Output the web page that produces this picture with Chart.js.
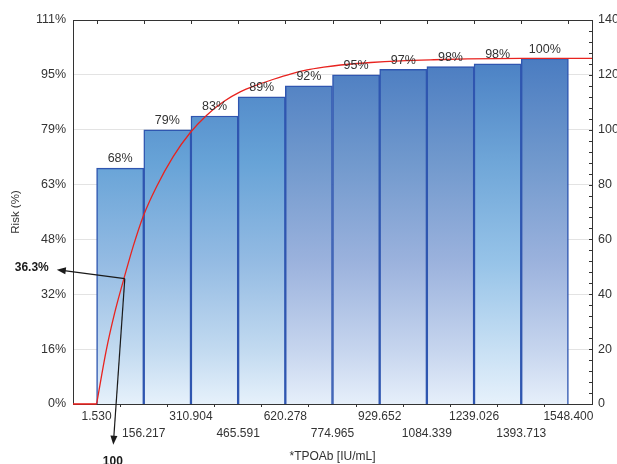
<!DOCTYPE html>
<html>
<head>
<meta charset="utf-8">
<script src="https://cdn.jsdelivr.net/npm/chart.js@4.4.1/dist/chart.umd.min.js"></script>
<style>
  html, body { margin: 0; padding: 0; background: #fff; }
  #wrap { width: 617px; height: 464px; }
</style>
</head>
<body>
<div id="wrap"><canvas id="chart" width="617" height="464"></canvas></div>
<script>
// bin edges of the TPOAb histogram (IU/mL)
const binEdges = [1.530, 156.217, 310.904, 465.591, 620.278, 774.965, 929.652, 1084.339, 1239.026, 1393.713, 1548.400];
const edgeLabels = ['1.530', '156.217', '310.904', '465.591', '620.278', '774.965', '929.652', '1084.339', '1239.026', '1393.713', '1548.400'];

// cumulative counts per bin (right axis) and their risk labels
const cumCounts = [86, 100, 105, 112, 116, 120, 122, 123, 124, 126];
const riskLabels = ['68%', '79%', '83%', '89%', '92%', '95%', '97%', '98%', '98%', '100%'];

// red fitted curve
const flatX = [-75.8, 1.53];
const flatY = [0, 0];
const curveX = [1.53, 33.5, 60.8, 91.4, 121, 153.9, 198, 252.6, 307.6, 362.6, 417.2, 472.2, 527.1, 581.8, 636.7, 691.7, 746.3, 801.3, 900, 998.8, 1107.4, 1218.4, 1393.7, 1625.7];
const curveY = [0, 19.7, 33.2, 45.8, 57.3, 68.3, 79.2, 90.2, 98.8, 105.3, 110.2, 113.8, 116.3, 118.4, 120.3, 121.8, 122.8, 123.6, 124.5, 125.1, 125.5, 125.8, 126, 126];

// axis ticks
const countTicks = [0, 20, 40, 60, 80, 100, 120, 140];
const riskTicks = ['0%', '16%', '32%', '48%', '63%', '79%', '95%', '111%'];

// marked point on the curve
const markPoint = [94, 45.7];
const markXLabel = '100';
const markYLabel = '36.3%';

const FONT = "'Liberation Sans', Arial, sans-serif";
const INK = '#333';

// gradient tones per bar: 0 cyan, 1 violet, 2 light cyan
const barTone = [0, 0, 0, 0, 1, 1, 1, 1, 2, 1];
const tones = [
  [[0, '#3f6fb8'], [0.10, '#4a80c4'], [0.37, '#67a3d7'], [0.63, '#94bbe3'], [0.86, '#c2daf0'], [1, '#e6f1fb']],
  [[0, '#3f6cb6'], [0.10, '#4a7cc1'], [0.37, '#7199cd'], [0.63, '#9bb2dd'], [0.86, '#c6d5ee'], [1, '#e6effa']],
  [[0, '#3f6fb8'], [0.10, '#4a80c4'], [0.37, '#6fa6d8'], [0.63, '#96c3e8'], [0.86, '#c8e0f4'], [1, '#e6f1fb']]
];

const barData = cumCounts.map((c, i) => ({ x: (binEdges[i] + binEdges[i + 1]) / 2, y: c }));
const curveData = curveX.map((x, i) => ({ x: x, y: curveY[i] }));
const flatData = flatX.map((x, i) => ({ x: x, y: flatY[i] }));

function barFill(ctx) {
  const chart = ctx.chart;
  const area = chart.chartArea;
  if (!area) return '#6a9fd6';
  const g = chart.ctx.createLinearGradient(0, area.top, 0, area.bottom);
  tones[barTone[ctx.dataIndex] || 0].forEach(s => g.addColorStop(s[0], s[1]));
  return g;
}

function arrow(c, x1, y1, x2, y2) {
  const a = Math.atan2(y2 - y1, x2 - x1);
  const len = 9, half = 3.5;
  c.beginPath();
  c.moveTo(x1, y1);
  c.lineTo(x2 - Math.cos(a) * len * 0.6, y2 - Math.sin(a) * len * 0.6);
  c.stroke();
  c.beginPath();
  c.moveTo(x2, y2);
  c.lineTo(x2 - Math.cos(a) * len - Math.sin(a) * half, y2 - Math.sin(a) * len + Math.cos(a) * half);
  c.lineTo(x2 - Math.cos(a) * len + Math.sin(a) * half, y2 - Math.sin(a) * len - Math.cos(a) * half);
  c.closePath();
  c.fill();
}

const decor = {
  id: 'decor',
  afterDatasetsDraw(chart) {
    const c = chart.ctx;
    const xs = chart.scales.x, ys = chart.scales.y2;
    c.save();
    c.font = '12.5px ' + FONT;
    c.fillStyle = INK;
    c.textAlign = 'center';
    c.textBaseline = 'bottom';
    barData.forEach((b, i) => {
      c.fillText(riskLabels[i], xs.getPixelForValue(b.x), ys.getPixelForValue(b.y) - 3);
    });
    c.restore();
  },
  afterDraw(chart) {
    const c = chart.ctx;
    const a = chart.chartArea;
    const xs = chart.scales.x, ys = chart.scales.y2;
    c.save();
    // top frame line with inward ticks
    c.strokeStyle = INK;
    c.lineWidth = 1;
    c.beginPath();
    c.moveTo(a.left, a.top + 0.5);
    c.lineTo(a.right, a.top + 0.5);
    binEdges.forEach(v => {
      const px = Math.round(xs.getPixelForValue(v)) + 0.5;
      c.moveTo(px, a.top);
      c.lineTo(px, a.top + 4);
    });
    // minor ticks on the right axis
    for (let v = 0; v <= 140; v += 4) {
      const py = Math.round(ys.getPixelForValue(v)) + 0.5;
      c.moveTo(a.right - 3, py);
      c.lineTo(a.right, py);
    }
    c.stroke();

    // marked point with arrows
    const px = xs.getPixelForValue(markPoint[0]);
    const py = ys.getPixelForValue(markPoint[1]);
    c.strokeStyle = '#1a1a1a';
    c.fillStyle = '#1a1a1a';
    c.lineWidth = 1.2;
    arrow(c, px, py, px - 68, py - 9);
    arrow(c, px, py, px - 11.5, py + 166);
    c.font = 'bold 12px ' + FONT;
    c.textBaseline = 'middle';
    c.textAlign = 'right';
    c.fillText(markYLabel, px - 76, py - 11);
    c.textAlign = 'center';
    c.fillText(markXLabel, px - 12, py + 183);
    c.restore();
  }
};

const redLine = {
  type: 'line',
  xAxisID: 'x',
  yAxisID: 'y2',
  borderColor: '#e8231f',
  borderWidth: 1.3,
  pointRadius: 0,
  fill: false,
  clip: 2,
  order: 0
};

new Chart(document.getElementById('chart'), {
  type: 'bar',
  data: {
    datasets: [
      Object.assign({}, redLine, { data: flatData, borderWidth: 1.6 }),
      Object.assign({}, redLine, { data: curveData, cubicInterpolationMode: 'monotone' }),
      {
        type: 'bar',
        data: barData,
        xAxisID: 'x',
        yAxisID: 'y2',
        backgroundColor: barFill,
        borderColor: '#2f56b0',
        borderWidth: 1.5,
        borderSkipped: 'start',
        barPercentage: 1,
        categoryPercentage: 1,
        order: 1
      }
    ]
  },
  options: {
    responsive: false,
    animation: false,
    layout: { padding: { top: 20, left: 0, right: 0, bottom: 0 } },
    plugins: {
      legend: { display: false },
      tooltip: { enabled: false }
    },
    scales: {
      x: {
        type: 'linear',
        position: 'bottom',
        min: -75.81,
        max: 1625.74,
        offset: false,
        afterBuildTicks: s => { s.ticks = binEdges.map(v => ({ value: v })); },
        afterFit: s => { s.height = 60; },
        ticks: {
          autoSkip: false,
          maxRotation: 0,
          padding: 1,
          color: INK,
          font: { family: FONT, size: 12, lineHeight: 1.45 },
          callback: (v, i) => (i % 2 === 0 ? [edgeLabels[i], ''] : ['', edgeLabels[i]])
        },
        grid: { drawOnChartArea: false, tickLength: 3, color: INK },
        border: { color: INK, width: 1 },
        title: {
          display: true,
          text: '*TPOAb [IU/mL]',
          color: INK,
          font: { family: FONT, size: 12 },
          padding: { top: 1, bottom: 0 }
        }
      },
      y: {
        position: 'left',
        min: 0,
        max: 140,
        afterBuildTicks: s => { s.ticks = countTicks.map(v => ({ value: v })); },
        afterFit: s => { s.width = 73; },
        ticks: {
          padding: 7,
          color: INK,
          font: { family: FONT, size: 12.5 },
          callback: (v, i) => riskTicks[i]
        },
        grid: { color: '#e3e3e3', drawTicks: false },
        border: { color: INK, width: 1 },
        title: {
          display: true,
          text: 'Risk (%)',
          color: INK,
          font: { family: FONT, size: 11.5 },
          padding: { top: 9, bottom: 0 }
        }
      },
      y2: {
        position: 'right',
        min: 0,
        max: 140,
        afterBuildTicks: s => { s.ticks = countTicks.map(v => ({ value: v })); },
        afterFit: s => { s.width = 25; },
        ticks: {
          padding: 6,
          color: INK,
          font: { family: FONT, size: 12.5 }
        },
        grid: { display: false, drawTicks: false },
        border: { display: true, color: INK, width: 1 }
      }
    }
  },
  plugins: [decor]
});
</script>
</body>
</html>
